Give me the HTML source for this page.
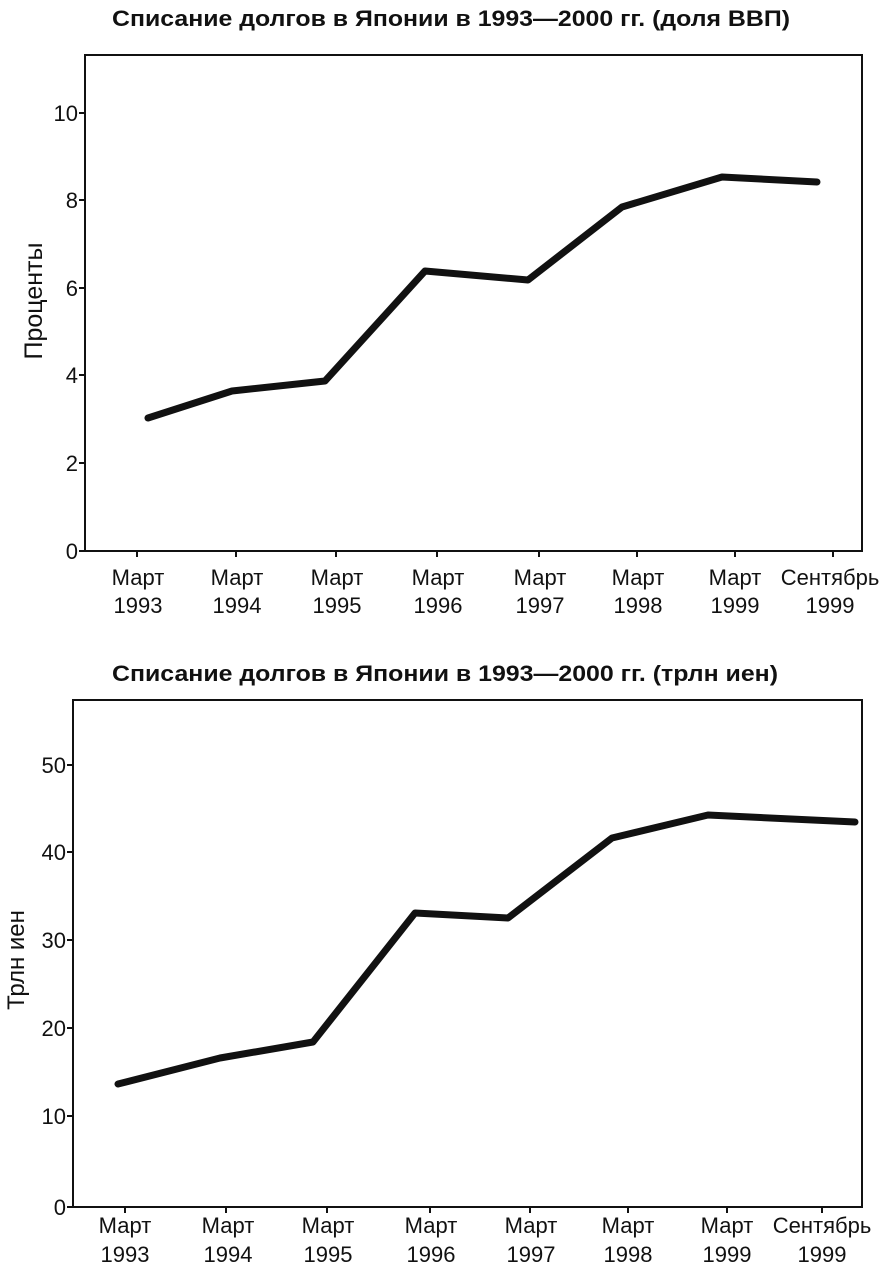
<!DOCTYPE html>
<html><head><meta charset="utf-8"><style>
body{margin:0;background:#fff}
svg text{font-family:"Liberation Sans",sans-serif;fill:#111}
</style></head><body>
<svg width="880" height="1273" viewBox="0 0 880 1273" xmlns="http://www.w3.org/2000/svg">
<g>
<text x="112" y="26" font-size="22" font-weight="bold" textLength="678" lengthAdjust="spacingAndGlyphs">Списание долгов в Японии в 1993—2000 гг. (доля ВВП)</text>
<rect x="85" y="55" width="777" height="496" fill="none" stroke="#111" stroke-width="2"/>
<g font-size="22" text-anchor="end">
<text x="78" y="559">0</text><text x="78" y="471">2</text><text x="78" y="383">4</text><text x="78" y="296">6</text><text x="78" y="208">8</text><text x="78" y="121">10</text>
</g>
<g stroke="#111" stroke-width="2">
<line x1="79" y1="551" x2="85" y2="551"/><line x1="79" y1="463" x2="85" y2="463"/><line x1="79" y1="375" x2="85" y2="375"/><line x1="79" y1="288" x2="85" y2="288"/><line x1="79" y1="200" x2="85" y2="200"/><line x1="79" y1="113" x2="85" y2="113"/>
<line x1="137" y1="551" x2="137" y2="557"/><line x1="236" y1="551" x2="236" y2="557"/><line x1="336" y1="551" x2="336" y2="557"/><line x1="437" y1="551" x2="437" y2="557"/><line x1="539" y1="551" x2="539" y2="557"/><line x1="637" y1="551" x2="637" y2="557"/><line x1="735" y1="551" x2="735" y2="557"/><line x1="833" y1="551" x2="833" y2="557"/>
</g>
<text transform="translate(42,301) rotate(-90)" font-size="25" text-anchor="middle">Проценты</text>
<g font-size="22" text-anchor="middle">
<text x="138" y="585">Март</text><text x="138" y="613">1993</text>
<text x="237" y="585">Март</text><text x="237" y="613">1994</text>
<text x="337" y="585">Март</text><text x="337" y="613">1995</text>
<text x="438" y="585">Март</text><text x="438" y="613">1996</text>
<text x="540" y="585">Март</text><text x="540" y="613">1997</text>
<text x="638" y="585">Март</text><text x="638" y="613">1998</text>
<text x="735" y="585">Март</text><text x="735" y="613">1999</text>
<text x="830" y="585">Сентябрь</text><text x="830" y="613">1999</text>
</g>
<polyline points="148,418 232,391 325,381 425,271 528,280 622,207 722,177 817,182" fill="none" stroke="#111" stroke-width="7" stroke-linejoin="round" stroke-linecap="round"/>
</g>
<g>
<text x="112" y="681" font-size="22" font-weight="bold" textLength="666" lengthAdjust="spacingAndGlyphs">Списание долгов в Японии в 1993—2000 гг. (трлн иен)</text>
<rect x="73" y="700" width="789" height="507" fill="none" stroke="#111" stroke-width="2"/>
<g font-size="22" text-anchor="end">
<text x="66" y="1215">0</text><text x="66" y="1124">10</text><text x="66" y="1036">20</text><text x="66" y="948">30</text><text x="66" y="860">40</text><text x="66" y="773">50</text>
</g>
<g stroke="#111" stroke-width="2">
<line x1="67" y1="1207" x2="73" y2="1207"/><line x1="67" y1="1116" x2="73" y2="1116"/><line x1="67" y1="1028" x2="73" y2="1028"/><line x1="67" y1="940" x2="73" y2="940"/><line x1="67" y1="852" x2="73" y2="852"/><line x1="67" y1="765" x2="73" y2="765"/>
<line x1="125" y1="1207" x2="125" y2="1213"/><line x1="226" y1="1207" x2="226" y2="1213"/><line x1="327" y1="1207" x2="327" y2="1213"/><line x1="430" y1="1207" x2="430" y2="1213"/><line x1="530" y1="1207" x2="530" y2="1213"/><line x1="628" y1="1207" x2="628" y2="1213"/><line x1="727" y1="1207" x2="727" y2="1213"/><line x1="822" y1="1207" x2="822" y2="1213"/>
</g>
<text transform="translate(24,960) rotate(-90)" font-size="24" text-anchor="middle">Трлн иен</text>
<g font-size="22" text-anchor="middle">
<text x="125" y="1233">Март</text><text x="125" y="1262">1993</text>
<text x="228" y="1233">Март</text><text x="228" y="1262">1994</text>
<text x="328" y="1233">Март</text><text x="328" y="1262">1995</text>
<text x="431" y="1233">Март</text><text x="431" y="1262">1996</text>
<text x="531" y="1233">Март</text><text x="531" y="1262">1997</text>
<text x="628" y="1233">Март</text><text x="628" y="1262">1998</text>
<text x="727" y="1233">Март</text><text x="727" y="1262">1999</text>
<text x="822" y="1233">Сентябрь</text><text x="822" y="1262">1999</text>
</g>
<polyline points="118,1084 220,1058 313,1042 415,913 508,918 612,838 708,815 855,822" fill="none" stroke="#111" stroke-width="7" stroke-linejoin="round" stroke-linecap="round"/>
</g>
</svg>
</body></html>
